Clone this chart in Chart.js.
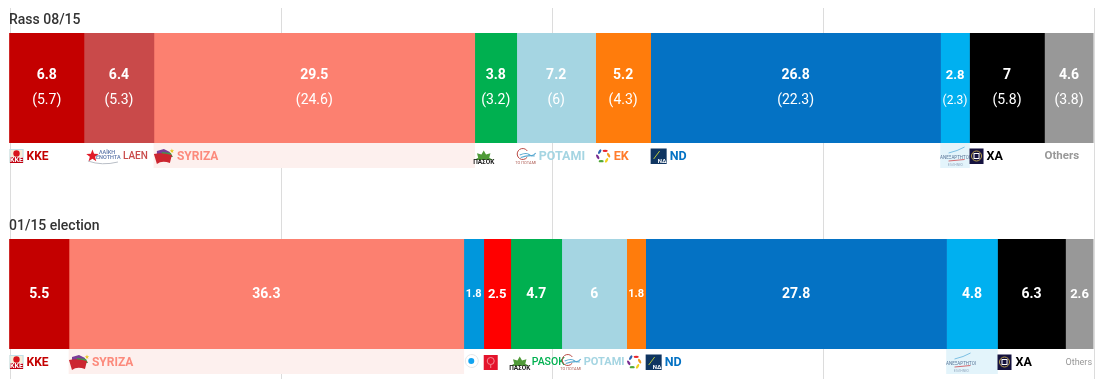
<!DOCTYPE html>
<html>
<head>
<meta charset="utf-8">
<style>html,body{margin:0;padding:0;background:#fff}canvas{display:block}</style>
<script src="https://cdn.jsdelivr.net/npm/chart.js@4/dist/chart.umd.min.js"></script>
</head>
<body>
<div style="width:1116px;height:383px"><canvas id="c" width="1116" height="383"></canvas></div>
<script>
const rowTitles = ['Rass 08/15', '01/15 election'];
const parties = ['KKE','LAEN','SYRIZA','KIDISO','DIMAR','PASOK','POTAMI','EK','ND','ANEL','XA','Others'];
const rassValues     = [6.91, 6.45, 29.58, null, null, 3.87, 7.28, 5.07, 26.73, 2.67, 6.91, 4.53];
const electionValues = [5.53, null, 36.4, 1.84, 2.49, 4.7, 5.99, 1.75, 27.74, 4.7, 6.27, 2.58];
// Printed numbers
const rassLabels     = ['6.8','6.4','29.5',null,null,'3.8','7.2','5.2','26.8','2.8','7','4.6'];
const rassBrackets   = ['(5.7)','(5.3)','(24.6)',null,null,'(3.2)','(6)','(4.3)','(22.3)','(2.3)','(5.8)','(3.8)'];
const electionLabels = ['5.5',null,'36.3','1.8','2.5','4.7','6','1.8','27.8','4.8','6.3','2.6'];
// Captions beside the logos
const rassCaptions     = ['KKE','LAEN','SYRIZA','','','','POTAMI','EK','ND','','XA','Others'];
const electionCaptions = ['KKE','','SYRIZA','','','PASOK','POTAMI','','ND','','XA','Others'];
const colors = ['#c40000','#c94a4a','#fc8070','#0097dc','#ff0000','#00b050','#a5d5e2','#ff7c0c','#0472c4','#00b0f0','#000000','#989898'];
const captionColors = ['#c40000','#c94a4a','#fc8a7c','','','#00b050','#a5d5e2','#ff7c2c','#0472c4','','#000000','#989898'];
const bandColors = {SYRIZA:'#fdf0ee', ANEL:'#e3f4fb'};
const logoWidths = {KKE:14,LAEN:36,SYRIZA:20,KIDISO:15,DIMAR:14,PASOK:18,POTAMI:19,EK:15,ND:16,ANEL:29,XA:14,Others:0};

const ROW_GAP = 206, PLOT_TOP_TO_ROW = 80, PLOT_ROW_TO_BOTTOM = 85, BAND_OFFSET = 67.5, INFLATE = 0.33;
const rows = [rassValues, electionValues];
const datasets = [];
parties.forEach((p, i) => {
  datasets.push({
    label: p, stack: 'bars', grouped: false, barPercentage: 10, maxBarThickness: 110 - 2 * INFLATE,
    inflateAmount: INFLATE,
    backgroundColor: colors[i], borderWidth: 0,
    data: rows.map((r, ri) => ({x: r[i], y: ri, row: ri, party: i})).filter(d => d.x !== null)
  });
});
parties.forEach((p, i) => {
  datasets.push({
    label: p + ' caption', stack: 'bands', grouped: false, barPercentage: 10, maxBarThickness: 25 - 2 * INFLATE,
    inflateAmount: INFLATE,
    backgroundColor: bandColors[p] || 'rgba(0,0,0,0)', borderWidth: 0,
    data: rows.map((r, ri) => ({x: r[i], y: ri + BAND_OFFSET / ROW_GAP, row: ri, party: i})).filter(d => d.x !== null)
  });
});

const FONT = 'Roboto, sans-serif';
function star(ctx, cx, cy, r, col) {
  ctx.fillStyle = col; ctx.beginPath();
  for (let k = 0; k < 10; k++) {
    const a = -Math.PI / 2 + k * Math.PI / 5, rr = k % 2 ? r * 0.42 : r;
    ctx[k ? 'lineTo' : 'moveTo'](cx + rr * Math.cos(a), cy + rr * Math.sin(a));
  }
  ctx.closePath(); ctx.fill();
}
const logos = {
  KKE(ctx, x, cy) {
    ctx.fillStyle = '#f6ecd8'; ctx.fillRect(x, cy - 7, 14, 14);
    ctx.strokeStyle = '#bfe0ea'; ctx.lineWidth = 1; ctx.strokeRect(x + .5, cy - 6.5, 13, 13);
    ctx.fillStyle = '#d8141c'; ctx.beginPath(); ctx.arc(x + 7, cy - 2.5, 3.2, 0, 7); ctx.fill();
    ctx.fillStyle = '#c00010'; ctx.fillRect(x + .5, cy + 1, 13, 6);
    ctx.fillStyle = '#fff'; ctx.font = 'bold 7px ' + FONT; ctx.textAlign = 'center'; ctx.fillText('KKE', x + 7, cy + 4.3);
  },
  LAEN(ctx, x, cy) {
    x += 2;
    star(ctx, x + 6.5, cy, 6.5, '#e01a28');
    ctx.fillStyle = '#5a74a8'; ctx.font = '500 5.5px ' + FONT; ctx.textAlign = 'left';
    ctx.fillText('ΛΑΪΚΗ', x + 13, cy - 3.5); ctx.fillText('ΕΝΟΤΗΤΑ', x + 10, cy + 2);
    ctx.strokeStyle = '#b9bec6'; ctx.lineWidth = 1; ctx.beginPath(); ctx.moveTo(x + 2, cy + 5); ctx.quadraticCurveTo(x + 16, cy + 10, x + 32, cy + 6); ctx.stroke();
  },
  SYRIZA(ctx, x, cy) {
    ctx.fillStyle = '#7a3f98'; ctx.beginPath(); ctx.moveTo(x + 3, cy - 5); ctx.lineTo(x + 10, cy - 7); ctx.lineTo(x + 16, cy - 4); ctx.lineTo(x + 16, cy); ctx.lineTo(x + 3, cy); ctx.fill();
    ctx.fillStyle = '#3f9a4c'; ctx.beginPath(); ctx.moveTo(x + 8, cy - 4); ctx.lineTo(x + 17, cy - 3); ctx.lineTo(x + 19, cy + 1); ctx.lineTo(x + 8, cy + 1); ctx.fill();
    ctx.fillStyle = '#cc2630'; ctx.beginPath(); ctx.moveTo(x, cy - 2); ctx.quadraticCurveTo(x + 8, cy - 4, x + 18, cy - 1); ctx.lineTo(x + 16, cy + 7); ctx.quadraticCurveTo(x + 8, cy + 4, x + 3, cy + 8); ctx.fill();
    star(ctx, x + 18, cy - 5, 2.4, '#e8c828');
  },
  KIDISO(ctx, x, cy) {
    ctx.strokeStyle = '#e4e6e8'; ctx.lineWidth = 1; ctx.beginPath(); ctx.arc(x + 8, cy - 1, 6.5, 0.2, 6.6); ctx.stroke();
    ctx.fillStyle = '#12a4f0'; ctx.beginPath(); ctx.arc(x + 7.5, cy - 1, 3, 0, 7); ctx.fill();
  },
  DIMAR(ctx, x, cy) {
    ctx.fillStyle = '#e4142c'; ctx.fillRect(x, cy - 7, 14, 15);
    ctx.strokeStyle = '#f28a94'; ctx.lineWidth = 1; ctx.beginPath(); ctx.arc(x + 7, cy - 1, 3.5, 0, 7); ctx.moveTo(x + 7, cy + 2.5); ctx.lineTo(x + 7, cy + 6); ctx.stroke();
  },
  PASOK(ctx, x, cy) {
    ctx.fillStyle = '#4f9a38'; ctx.beginPath();
    for (let k = 0; k <= 8; k++) {
      const a = Math.PI + k * Math.PI / 8, r = k % 2 ? 6 : 9.5;
      ctx.lineTo(x + 9 + r * Math.cos(a), cy + 4 + r * Math.sin(a));
    }
    ctx.closePath(); ctx.fill();
    ctx.fillStyle = '#222'; ctx.font = 'bold 6.5px ' + FONT; ctx.textAlign = 'center'; ctx.fillText('ΠΑΣΟΚ', x + 9, cy + 6.5);
  },
  POTAMI(ctx, x, cy) {
    ctx.strokeStyle = '#b94a44'; ctx.lineWidth = 1; ctx.beginPath(); ctx.arc(x + 6, cy - 2, 5.5, 0.6, 5.7); ctx.stroke();
    ctx.strokeStyle = '#58a8d0'; ctx.lineWidth = 1.2;
    ctx.beginPath(); ctx.moveTo(x + 3, cy - 1); ctx.quadraticCurveTo(x + 10, cy - 4, x + 13, cy - 1); ctx.quadraticCurveTo(x + 16, cy + 1, x + 19, cy - 3); ctx.stroke();
    ctx.beginPath(); ctx.moveTo(x + 4, cy + 1.5); ctx.quadraticCurveTo(x + 11, cy - 1, x + 18, cy); ctx.stroke();
    ctx.fillStyle = '#b06058'; ctx.font = '4px ' + FONT; ctx.textAlign = 'center'; ctx.fillText('ΤΟ ΠΟΤΑΜΙ', x + 9, cy + 7);
  },
  EK(ctx, x, cy) {
    ['#e8262c','#f29a1e','#f2d21e','#52a838','#7a2c90','#2c64b0'].forEach((c, k) => {
      const a = -1.2 + k * Math.PI / 3; ctx.fillStyle = c;
      ctx.beginPath(); ctx.ellipse(x + 7.5 + 5.5 * Math.cos(a), cy + 5.5 * Math.sin(a), 2.6, 1.2, a + 1.2, 0, 7); ctx.fill();
    });
  },
  ND(ctx, x, cy) {
    ctx.fillStyle = '#0f3561'; ctx.fillRect(x, cy - 7.5, 16, 15.5);
    ctx.strokeStyle = '#b8c83c'; ctx.lineWidth = 1; ctx.beginPath(); ctx.moveTo(x + 3, cy + 3); ctx.lineTo(x + 9, cy - 5); ctx.stroke();
    ctx.fillStyle = '#fff'; ctx.font = 'bold 6px ' + FONT; ctx.textAlign = 'left'; ctx.fillText('ΝΔ', x + 7, cy + 5);
  },
  ANEL(ctx, x, cy) {
    ctx.strokeStyle = '#7cc0e4'; ctx.lineWidth = 1; ctx.beginPath(); ctx.moveTo(x + 8, cy - 3); ctx.quadraticCurveTo(x + 17, cy - 5, x + 24, cy - 9); ctx.stroke();
    ctx.fillStyle = '#5a7698'; ctx.font = '4.5px ' + FONT; ctx.textAlign = 'center'; ctx.fillText('ΑΝΕΞΑΡΤΗΤΟΙ', x + 14.5, cy + 1.5);
    ctx.strokeStyle = '#d46a70'; ctx.beginPath(); ctx.moveTo(x + 8, cy + 5); ctx.lineTo(x + 24, cy + 3.5); ctx.stroke();
    ctx.fillStyle = '#9aaec4'; ctx.font = '3.5px ' + FONT; ctx.fillText('ΕΛΛΗΝΕΣ', x + 15, cy + 9);
  },
  XA(ctx, x, cy) {
    ctx.fillStyle = '#15123f'; ctx.fillRect(x, cy - 7.5, 14, 15.5);
    ctx.strokeStyle = '#b8a04a'; ctx.lineWidth = 1; ctx.beginPath(); ctx.arc(x + 7, cy, 5, 0, 7); ctx.stroke();
    ctx.strokeStyle = '#fff'; ctx.lineWidth = 1; ctx.strokeRect(x + 4.5, cy - 2.5, 5, 5);
  }
};

function captionFont(p, ri) {
  if (p === 'LAEN') return '500 10px ';
  if (p === 'Others') return ri === 0 ? 'bold 11.5px ' : '9px ';
  if (p === 'PASOK') return '500 10.5px ';
  if (p === 'POTAMI') return ri === 0 ? 'bold 12.5px ' : 'bold 11px ';
  if (p === 'KKE' || p === 'SYRIZA') return 'bold 12px ';
  return 'bold 12.5px ';
}

// The grid sits one pixel to the right of the bars in the picture.
const gridNudge = {
  id: 'gridNudge',
  beforeDraw(chart) { chart.ctx.save(); chart.ctx.translate(1, 0); },
  beforeDatasetsDraw(chart) { chart.ctx.restore(); }
};

const labelPlugin = {
  id: 'partyText',
  afterDatasetsDraw(chart) {
    const ctx = chart.ctx;
    ctx.save();
    ctx.textBaseline = 'middle';
    const plotLeft = chart.scales.x.getPixelForValue(0);
    const yS = chart.scales.y;
    rowTitles.forEach((t, ri) => {
      ctx.fillStyle = '#333'; ctx.textAlign = 'left'; ctx.font = '500 14px ' + FONT;
      ctx.fillText(t, plotLeft, yS.getPixelForValue(ri) - 67.5);
    });
    parties.forEach((p, i) => {
      const meta = chart.getDatasetMeta(i);
      meta.data.forEach((bar, j) => {
        const ri = chart.data.datasets[i].data[j].row;
        const left = bar.base, w = bar.x - bar.base;
        const cx = (left + bar.x) / 2;
        const main = (ri === 0 ? rassLabels : electionLabels)[i];
        const sub = ri === 0 ? rassBrackets[i] : null;
        const size = w < 22 ? 11 : w < 35 ? 13 : 14;
        ctx.fillStyle = '#fff'; ctx.textAlign = 'center';
        ctx.font = 'bold ' + size + 'px ' + FONT;
        ctx.fillText(main, cx, sub ? bar.y - 12.5 : bar.y + 0.5);
        if (sub) {
          ctx.font = (w < 35 ? 12 : 14) + 'px ' + FONT;
          ctx.fillText(sub, cx, bar.y + 12.5);
        }
        // caption row
        const cy = bar.y + BAND_OFFSET + 0.5;
        let logoW = logoWidths[p];
        if (p === 'XA' && ri === 1) logoW = 15;
        if (logos[p]) { ctx.save(); logos[p](ctx, left, cy); ctx.restore(); }
        const cap = (ri === 0 ? rassCaptions : electionCaptions)[i];
        if (cap) {
          ctx.font = captionFont(p, ri) + FONT; ctx.fillStyle = captionColors[i]; ctx.textAlign = 'left';
          ctx.fillText(cap, left + logoW + (logoW ? 3 : 0), cy + 0.5);
        }
      });
    });
    ctx.restore();
  }
};

new Chart(document.getElementById('c'), {
  type: 'bar',
  data: { datasets },
  plugins: [gridNudge, labelPlugin],
  options: {
    indexAxis: 'y',
    responsive: false,
    animation: false,
    events: [],
    layout: { padding: { left: 9, right: 22.4, top: 8, bottom: 4 } },
    plugins: { legend: { display: false }, tooltip: { enabled: false }, title: { display: false } },
    scales: {
      x: {
        type: 'linear', stacked: true, min: 0, max: 100, position: 'bottom',
        ticks: { display: false, stepSize: 25 },
        grid: { color: '#dcdcdc', lineWidth: 1, drawTicks: false },
        border: { display: false }
      },
      y: {
        type: 'linear', reverse: true, offset: false,
        min: -PLOT_TOP_TO_ROW / ROW_GAP, max: 1 + PLOT_ROW_TO_BOTTOM / ROW_GAP,
        display: false
      }
    }
  }
});
</script>
</body>
</html>
